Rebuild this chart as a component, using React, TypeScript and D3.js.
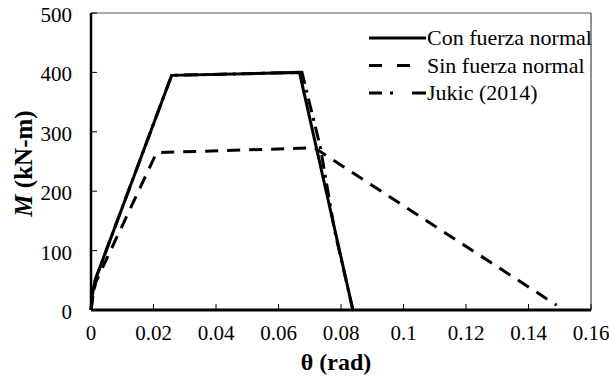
import React from "react";
import * as d3 from "d3";

const conTheta = [0, 0.0003, 0.0007, 0.0013, 0.0258, 0.0667, 0.0838];
const conM = [0, 20, 35, 50, 395, 400, 0];

const sinTheta = [0, 0.0004, 0.0009, 0.0016, 0.021, 0.0715, 0.149];
const sinM = [0, 18, 32, 48, 265, 273, 8];

const jukTheta = [0, 0.0013, 0.0258, 0.0675, 0.0734, 0.0779, 0.0838];
const jukM = [0, 50, 395, 400, 274, 135, 0];

const xTicks = [0, 0.02, 0.04, 0.06, 0.08, 0.1, 0.12, 0.14, 0.16];
const xTickLabels = ["0", "0.02", "0.04", "0.06", "0.08", "0.1", "0.12", "0.14", "0.16"];
const yTicks = [0, 100, 200, 300, 400, 500];

const seriesNames = ["Con fuerza normal", "Sin fuerza normal", "Jukic (2014)"];
const dashes = ["none", "13,9", "14,6,3,6"];

export default function App() {
  const W = 609, H = 383;
  const L = 91, R = 591, T = 13, B = 310;
  const x = d3.scaleLinear().domain([0, 0.16]).range([L, R]);
  const y = d3.scaleLinear().domain([0, 500]).range([B, T]);
  const line = d3.line<[number, number]>().x(d => x(d[0])).y(d => y(d[1]));
  const series = [
    conTheta.map((t, i) => [t, conM[i]] as [number, number]),
    sinTheta.map((t, i) => [t, sinM[i]] as [number, number]),
    jukTheta.map((t, i) => [t, jukM[i]] as [number, number]),
  ];
  const ff = { fontFamily: "'Liberation Serif', 'Times New Roman', Times, serif" };
  const rowY = [38, 65.5, 93];
  const legSegs: [number, number][][] = [
    [[369, 426]],
    [[369, 382], [397, 410]],
    [[369, 382], [390, 393], [412, 426]],
  ];
  return (
    <svg width={W} height={H} style={{ position: "absolute", left: 0, top: 0, background: "#fff" }}>
      <rect x={0} y={0} width={W} height={H} fill="#fff" />
      <line x1={L} y1={T} x2={R} y2={T} stroke="#555" strokeWidth={1} />
      <line x1={R} y1={T} x2={R} y2={B} stroke="#222" strokeWidth={1} />
      {xTicks.map((t, i) => (
        <g key={"xt" + i}>
          <line x1={x(t)} x2={x(t)} y1={B} y2={B - 6} stroke="#000" strokeWidth={1} />
          <text x={x(t)} y={B + 30} textAnchor="middle" fontSize={21} style={ff}>{xTickLabels[i]}</text>
        </g>
      ))}
      {yTicks.map((t, i) => (
        <g key={"yt" + i}>
          <line x1={L} x2={L + 6} y1={y(t)} y2={y(t)} stroke="#000" strokeWidth={1} />
          <text x={72} y={y(t) + 9} textAnchor="end" fontSize={21} style={ff}>{t}</text>
        </g>
      ))}
      {seriesNames.map((n, i) => (
        <g key={"lg" + i}>
          {legSegs[i].map((s, j) => (
            <line key={j} x1={s[0]} x2={s[1]} y1={rowY[i]} y2={rowY[i]} stroke="#000" strokeWidth={3} />
          ))}
          <text x={427} y={rowY[i] + 7} fontSize={22} style={ff}>{n}</text>
        </g>
      ))}
      {series.map((s, i) => (
        <path key={"s" + i} d={line(s) || ""} fill="none" stroke="#000" strokeWidth={3} strokeDasharray={dashes[i]} strokeLinejoin="miter" />
      ))}
      <line x1={L} y1={T} x2={L} y2={B} stroke="#000" strokeWidth={2.5} />
      <line x1={L} y1={B} x2={R} y2={B} stroke="#000" strokeWidth={3} />
      <text x={336} y={370} textAnchor="middle" fontSize={24} fontWeight="bold" style={ff}>θ (rad)</text>
      <text transform={`translate(32,${(T + B) / 2 + 2}) rotate(-90)`} textAnchor="middle" fontSize={25} fontWeight="bold" style={ff}>
        <tspan fontStyle="italic">M</tspan> (kN-m)
      </text>
    </svg>
  );
}
